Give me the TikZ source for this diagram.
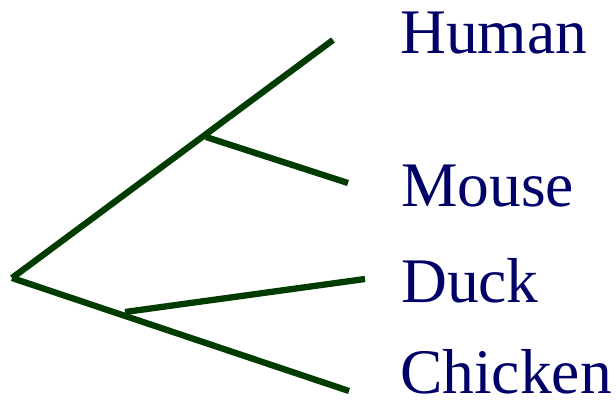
\documentclass[tikz,border=0pt]{standalone}
\usepackage{fontspec}
\setmainfont{Liberation Serif}
\usepackage{tikz}
\definecolor{branchgreen}{RGB}{0,60,0}
\definecolor{leafnavy}{RGB}{0,0,105}

\begin{document}
\begin{tikzpicture}[x=1pt,y=-1pt,
  branch/.style={draw=branchgreen,line width=6.3pt,line cap=butt},
  leaf/.style={anchor=base west,inner sep=0pt,text depth=0pt,text=leafnavy,font=\fontsize{63.5}{70}\selectfont}]
  \useasboundingbox (0,0) rectangle (616,402);
  % tree joints and tips
  \coordinate (root) at (12,278);
  \coordinate (hm) at (206,137);
  \coordinate (dc) at (125,312);
  \coordinate (tHuman) at (333,40);
  \coordinate (tMouse) at (348,183);
  \coordinate (tDuck) at (365,279);
  \coordinate (tChicken) at (349,391);
  % labels
  \node[leaf] (human) at (400,53) {Human};
  \node[leaf] (mouse) at (401,206) {Mouse};
  \node[leaf] (duck) at (401,302) {Duck};
  \node[leaf] (chicken) at (400,393) {Chicken};
  % branches
  \draw[branch] (root) -- (tHuman);
  \draw[branch] (hm) -- (tMouse);
  \draw[branch] (root) -- (tChicken);
  \draw[branch] (dc) -- (tDuck);
\end{tikzpicture}
\end{document}
